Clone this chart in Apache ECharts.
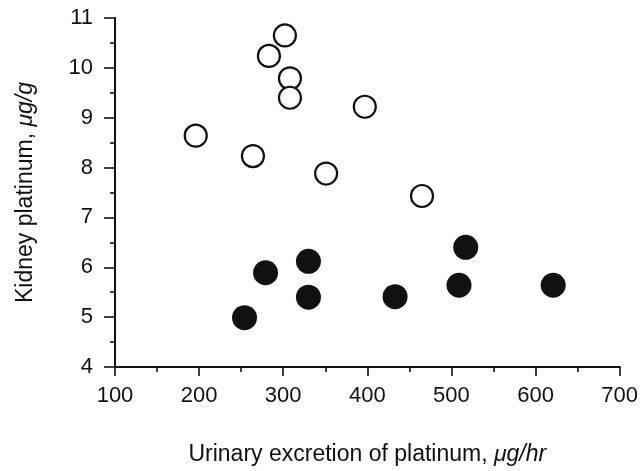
<!DOCTYPE html>
<html>
<head>
<meta charset="utf-8">
<script src="https://cdn.jsdelivr.net/npm/echarts@6/dist/echarts.min.js"></script>
<style>
html,body{margin:0;padding:0;background:#fff;}
#chart{width:641px;height:471px;}
</style>
</head>
<body>
<div id="chart"></div>
<script>
// open circles
var openX = [302, 283, 308, 308, 397, 196, 264, 351, 465];
var openY = [10.65, 10.24, 9.79, 9.40, 9.22, 8.64, 8.23, 7.88, 7.43];
// filled circles
var filledX = [254, 279, 330, 330, 433, 509, 517, 621];
var filledY = [4.99, 5.89, 6.12, 5.40, 5.41, 5.64, 6.40, 5.64];

var xTicks = [100, 200, 300, 400, 500, 600, 700];
var yTicks = [4, 5, 6, 7, 8, 9, 10, 11];

function pairs(xs, ys){
    var out = [];
    for(var i=0;i<xs.length;i++){
        out.push([xs[i], ys[i]]);
    }
    return out;
}

var ink = '#111';
var font = 'Liberation Sans';

var myChart = echarts.init(document.getElementById('chart'), null, {renderer:'canvas'});
var option = {
    animation: false,
    backgroundColor: '#fff',
    grid: {
        left: 115,
        right: 21,
        top: 18,
        bottom: 100
    },
    xAxis: {
        type: 'value',
        min: xTicks[0],
        max: xTicks[xTicks.length-1],
        interval: 100,
        name: 'Urinary excretion of platinum, {i|μg/hr}',
        nameLocation: 'middle',
        nameGap: 76,
        nameTextStyle: {
            color: ink,
            fontFamily: font,
            fontSize: 23,
            rich: {
                i: {fontStyle: 'italic', fontFamily: font, fontSize: 23, color: ink}
            }
        },
        axisLine: {show: true, onZero: false, lineStyle: {color: ink, width: 2}},
        axisTick: {show: true, inside: false, length: 9, lineStyle: {color: ink, width: 1.6}},
        minorTick: {show: true, splitNumber: 2, length: 5, lineStyle: {color: ink, width: 1.6}},
        splitLine: {show: false},
        axisLabel: {color: ink, fontFamily: font, fontSize: 22, margin: 18}
    },
    yAxis: {
        type: 'value',
        min: yTicks[0],
        max: yTicks[yTicks.length-1],
        interval: 1,
        name: 'Kidney platinum, {i|μg/g}',
        nameLocation: 'middle',
        nameGap: 78,
        nameTextStyle: {
            color: ink,
            fontFamily: font,
            fontSize: 23,
            rich: {
                i: {fontStyle: 'italic', fontFamily: font, fontSize: 23, color: ink}
            }
        },
        axisLine: {show: true, onZero: false, lineStyle: {color: ink, width: 2}},
        axisTick: {show: true, inside: false, length: 11, lineStyle: {color: ink, width: 1.6}},
        minorTick: {show: true, splitNumber: 2, length: 5, lineStyle: {color: ink, width: 1.6}},
        splitLine: {show: false},
        axisLabel: {color: ink, fontFamily: font, fontSize: 22, margin: 22}
    },
    series: [
        {
            name: 'open',
            type: 'scatter',
            data: pairs(openX, openY),
            symbol: 'circle',
            symbolSize: 22,
            itemStyle: {color: '#fff', borderColor: ink, borderWidth: 2.2, opacity: 1}
        },
        {
            name: 'filled',
            type: 'scatter',
            data: pairs(filledX, filledY),
            symbol: 'circle',
            symbolSize: 25,
            itemStyle: {color: ink, opacity: 1}
        }
    ]
};
myChart.setOption(option);
</script>
</body>
</html>
